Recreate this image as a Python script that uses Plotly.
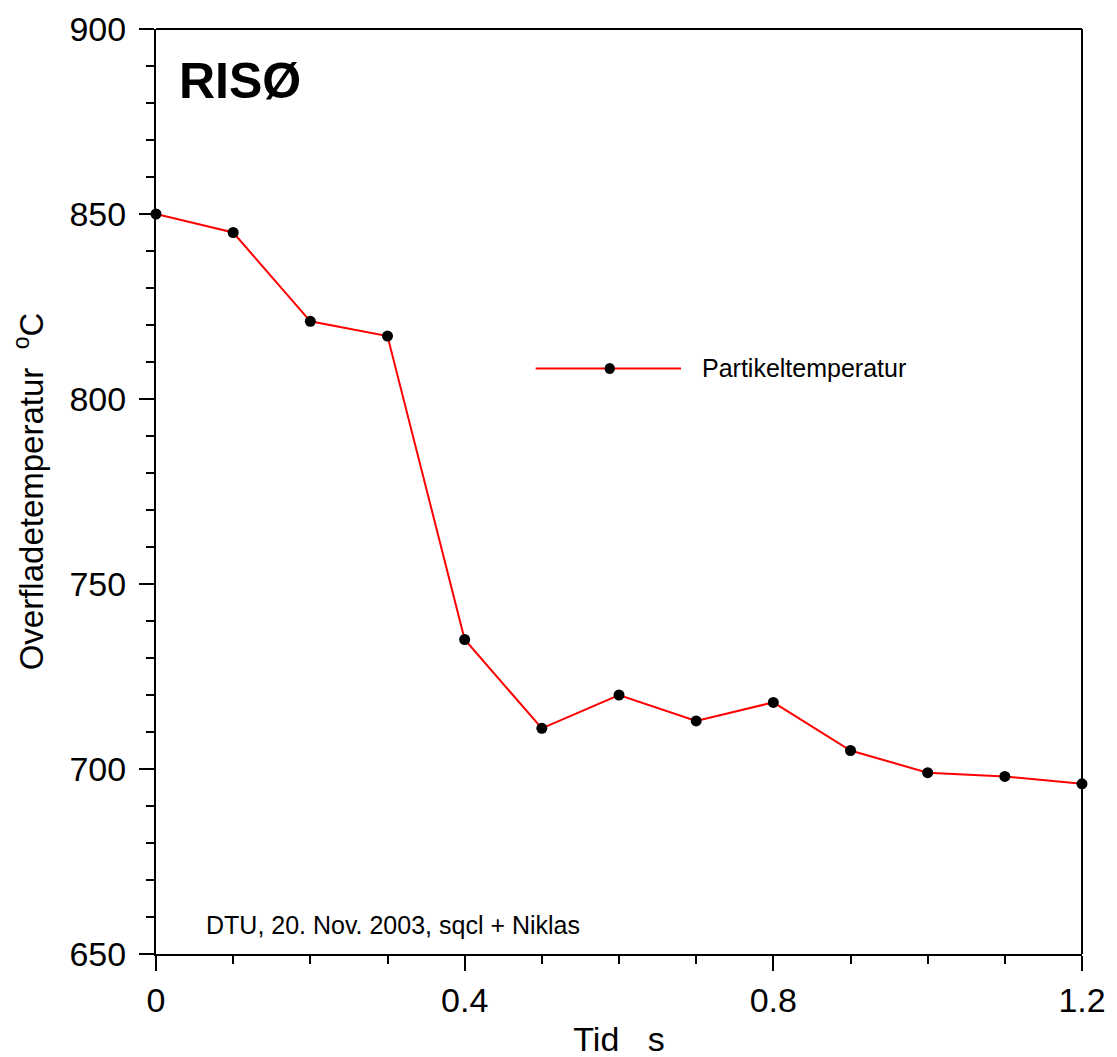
import plotly.graph_objects as go

tid = [0, 0.1, 0.2, 0.3, 0.4, 0.5, 0.6, 0.7, 0.8, 0.9, 1.0, 1.1, 1.2]
temp = [850, 845, 821, 817, 735, 711, 720, 713, 718, 705, 699, 698, 696]
series_name = "Partikeltemperatur"
x_ticks = [0, 0.4, 0.8, 1.2]
x_tick_labels = ["0", "0.4", "0.8", "1.2"]
y_ticks = [650, 700, 750, 800, 850, 900]

FONT = "Arial, Liberation Sans, sans-serif"

fig = go.Figure()
fig.add_trace(go.Scatter(
    x=tid, y=temp, mode="lines+markers", name=series_name,
    line=dict(color="#ff0000", width=2),
    marker=dict(color="black", size=11, symbol="circle"),
    showlegend=False, cliponaxis=False,
))

axis_common = dict(
    showgrid=False, zeroline=False, showline=True, linecolor="black", linewidth=2,
    ticks="outside", tickcolor="black", tickwidth=2, ticklen=15,
    tickfont=dict(family=FONT, size=34, color="black"),
    mirror=False,
)

fig.update_xaxes(
    range=[0, 1.2], tickvals=x_ticks, ticktext=x_tick_labels,
    minor=dict(dtick=0.1, ticks="outside", ticklen=8, tickwidth=2, tickcolor="black", showgrid=False),
    title=dict(text="Tid   s", font=dict(family=FONT, size=34, color="black"), standoff=10),
    automargin=False,
    **axis_common,
)
fig.update_yaxes(
    range=[650, 900], tickvals=y_ticks,
    minor=dict(dtick=10, ticks="outside", ticklen=8, tickwidth=2, tickcolor="black", showgrid=False),
    title=dict(text="Overfladetemperatur  <sup>o</sup>C", font=dict(family=FONT, size=33, color="black"), standoff=18),
    ticklabelstandoff=6,
    automargin=False,
    **axis_common,
)

# top and right border lines
fig.add_shape(type="line", xref="paper", yref="paper", x0=0, x1=1, y0=1, y1=1,
              line=dict(color="black", width=2))
fig.add_shape(type="line", xref="paper", yref="paper", x0=1, x1=1, y0=0, y1=1,
              line=dict(color="black", width=2))

# manual legend
fig.add_shape(type="line", xref="paper", yref="paper", x0=0.410, x1=0.567, y0=0.633, y1=0.633,
              line=dict(color="#ff0000", width=2))
fig.add_shape(type="circle", xref="paper", yref="paper", x0=0.4845, x1=0.4955, y0=0.627, y1=0.639,
              fillcolor="black", line=dict(color="black", width=0))
fig.add_annotation(text=series_name, xref="paper", yref="paper", x=0.588, y=0.633,
                   xanchor="left", yanchor="middle", showarrow=False,
                   font=dict(family=FONT, size=25, color="black"))

fig.add_annotation(text="<b>RISØ</b>", xref="paper", yref="paper", x=0.023, y=0.944,
                   xanchor="left", yanchor="middle", showarrow=False,
                   font=dict(family=FONT, size=50, color="black"))
fig.add_annotation(text="DTU, 20. Nov. 2003, sqcl + Niklas", xref="paper", yref="paper",
                   x=0.052, y=0.031, xanchor="left", yanchor="middle", showarrow=False,
                   font=dict(family=FONT, size=25, color="black"))

fig.update_layout(
    width=1110, height=1050,
    margin=dict(l=148, r=36, t=21, b=104),
    plot_bgcolor="white", paper_bgcolor="white",
    font=dict(family=FONT, color="black"),
)

fig.write_html("out.html")
